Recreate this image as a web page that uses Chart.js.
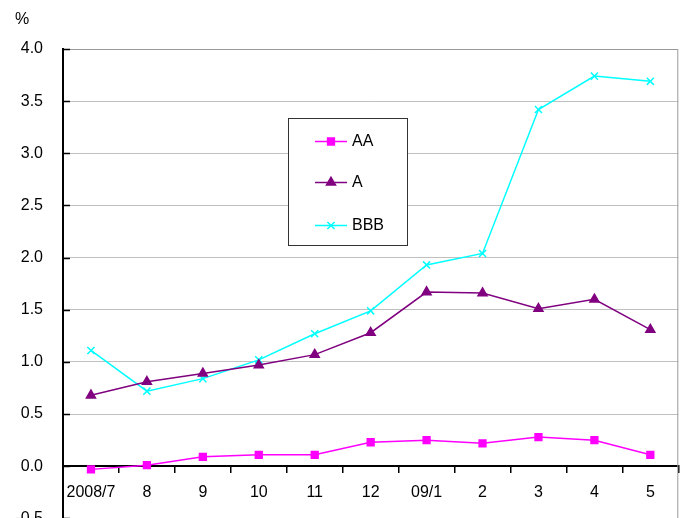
<!DOCTYPE html>
<html>
<head>
<meta charset="utf-8">
<script src="https://cdn.jsdelivr.net/npm/chart.js@4"></script>
<style>
    html, body { margin: 0; padding: 0; background: #fff; overflow: hidden; }
    canvas { display: block; }
</style>
</head>
<body>
<canvas id="chart" width="685" height="548"></canvas>
<script>
const months = ['2008/7', '8', '9', '10', '11', '12', '09/1', '2', '3', '4', '5'];
const aaValues = [-0.03, 0.01, 0.09, 0.11, 0.11, 0.23, 0.25, 0.22, 0.28, 0.25, 0.11];
const aValues = [0.68, 0.81, 0.89, 0.97, 1.07, 1.28, 1.67, 1.66, 1.51, 1.60, 1.31];
const bbbValues = [1.11, 0.72, 0.84, 1.02, 1.27, 1.49, 1.93, 2.04, 3.42, 3.74, 3.69];

const FONT = '"Liberation Sans", Arial, sans-serif';

// frame, inner y ticks, % unit and the boxed legend
const decorations = {
    id: 'decorations',
    beforeDatasetsDraw(chart) {
        const { ctx, chartArea: a } = chart;
        ctx.save();
        ctx.strokeStyle = '#999';
        ctx.lineWidth = 1;
        ctx.beginPath();
        ctx.moveTo(a.left, a.top + 0.5);
        ctx.lineTo(a.right - 0.5, a.top + 0.5);
        ctx.lineTo(a.right - 0.5, a.bottom);
        ctx.stroke();

        const y = chart.scales.y;
        ctx.strokeStyle = '#000';
        ctx.lineWidth = 1.5;
        y.ticks.forEach(t => {
            const py = Math.round(y.getPixelForValue(t.value)) + 0.5;
            ctx.beginPath();
            ctx.moveTo(a.left, py);
            ctx.lineTo(a.left + 7, py);
            ctx.stroke();
        });
        ctx.restore();
    },
    afterDraw(chart) {
        const { ctx } = chart;
        ctx.save();
        ctx.fillStyle = '#000';
        ctx.font = '16px ' + FONT;
        ctx.textBaseline = 'middle';
        ctx.fillText('%', 15, 20);

        // legend box
        ctx.fillStyle = '#fff';
        ctx.fillRect(288, 118, 120, 128);
        ctx.strokeStyle = '#333';
        ctx.lineWidth = 1;
        ctx.strokeRect(288.5, 118.5, 119, 127);

        const rows = [141, 182, 225];
        chart.data.datasets.forEach((ds, i) => {
            const ry = rows[i] + 0.5;
            ctx.strokeStyle = ds.borderColor;
            ctx.fillStyle = ds.pointBackgroundColor;
            ctx.lineWidth = 1.5;
            ctx.beginPath();
            ctx.moveTo(315, ry);
            ctx.lineTo(347, ry);
            ctx.stroke();
            Chart.helpers.drawPoint(ctx, {
                pointStyle: ds.pointStyle,
                radius: ds.pointRadius,
                rotation: 0,
                borderWidth: 1.5
            }, 331, ry);
            ctx.fillStyle = '#000';
            ctx.font = '16px ' + FONT;
            ctx.textBaseline = 'middle';
            ctx.fillText(ds.label, 352, rows[i] + 1);
        });
        ctx.restore();
    }
};

new Chart(document.getElementById('chart'), {
    type: 'line',
    data: {
        labels: months,
        datasets: [
            {
                label: 'AA',
                data: aaValues,
                borderColor: '#ff00ff',
                backgroundColor: '#ff00ff',
                pointBackgroundColor: '#ff00ff',
                pointBorderColor: '#ff00ff',
                pointStyle: 'rect',
                pointRadius: 4.8,
                borderWidth: 1.5
            },
            {
                label: 'A',
                data: aValues,
                borderColor: '#800080',
                backgroundColor: '#800080',
                pointBackgroundColor: '#800080',
                pointBorderColor: '#800080',
                pointStyle: 'triangle',
                pointRadius: 5.2,
                borderWidth: 1.5
            },
            {
                label: 'BBB',
                data: bbbValues,
                borderColor: '#00ffff',
                backgroundColor: '#00ffff',
                pointBackgroundColor: '#00ffff',
                pointBorderColor: '#00ffff',
                pointStyle: 'crossRot',
                pointRadius: 5,
                pointBorderWidth: 1.5,
                borderWidth: 1.5
            }
        ]
    },
    options: {
        responsive: false,
        animation: false,
        layout: { padding: { left: 0, right: 6, top: 49, bottom: 23 } },
        plugins: {
            legend: { display: false },
            tooltip: { enabled: false }
        },
        elements: { line: { tension: 0 } },
        scales: {
            x: {
                position: { y: 0 },
                offset: true,
                grid: {
                    offset: true,
                    drawOnChartArea: false,
                    drawTicks: true,
                    tickLength: 6,
                    color: '#000',
                    lineWidth: 1.5
                },
                border: { display: true, color: '#000', width: 2 },
                ticks: {
                    color: '#000',
                    padding: 11,
                    maxRotation: 0,
                    autoSkip: false,
                    font: { family: FONT, size: 16 }
                }
            },
            y: {
                min: -0.5,
                max: 4.0,
                afterFit(scale) { scale.width = 63; },
                grid: {
                    color: '#c0c0c0',
                    lineWidth: 1,
                    drawTicks: false
                },
                border: { display: true, color: '#000', width: 2 },
                ticks: {
                    stepSize: 0.5,
                    color: '#000',
                    padding: 20,
                    font: { family: FONT, size: 16 },
                    callback: v => Number(v).toFixed(1)
                }
            }
        }
    },
    plugins: [decorations]
});
</script>
</body>
</html>
